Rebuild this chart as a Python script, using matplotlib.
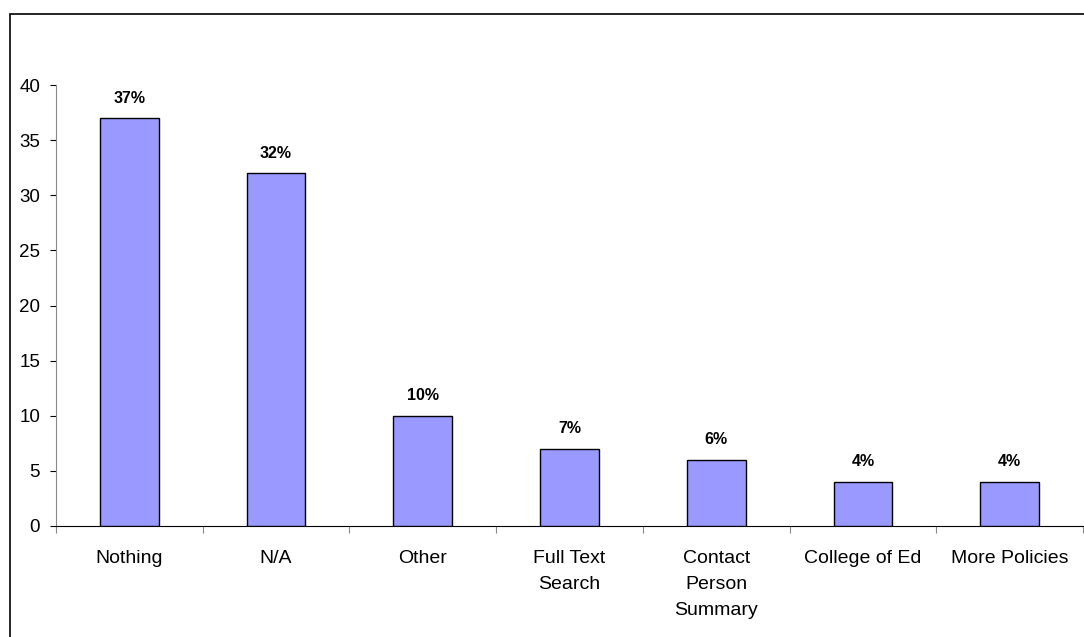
import matplotlib.pyplot as plt
from matplotlib.patches import Rectangle

categories = ["Nothing", "N/A", "Other", "Full Text\nSearch", "Contact\nPerson\nSummary",
              "College of Ed", "More Policies"]
values = [37, 32, 10, 7, 6, 4, 4]
labels = ["37%", "32%", "10%", "7%", "6%", "4%", "4%"]

plt.rcParams['font.family'] = ['Liberation Sans', 'DejaVu Sans']

fig = plt.figure(figsize=(10.84, 6.37), dpi=100)
# outer chart border (runs off the right and bottom edges)
fig.patches.append(Rectangle((10 / 1084, -0.05), 1.2, 1 - 14 / 637 + 0.05,
                             transform=fig.transFigure, fill=False,
                             edgecolor='black', linewidth=1.2))

ax = fig.add_axes([56 / 1084, 1 - 526 / 637, 1027 / 1084, 441 / 637])
x = range(len(categories))
ax.bar(x, values, width=0.4, color='#9999FF', edgecolor='black', linewidth=1.0, zorder=3)
for i, (v, lab) in enumerate(zip(values, labels)):
    ax.annotate(lab, (i, v), xytext=(0, 9), textcoords='offset points',
                ha='center', va='bottom', fontsize=11.5, fontweight='bold')

ax.set_xlim(-0.5, len(categories) - 0.5)
ax.set_ylim(0, 40)
ax.set_yticks(range(0, 41, 5))
ax.tick_params(axis='y', labelsize=13.5, length=4.5, direction='out', pad=7)

ax.set_xticks([i + 0.5 for i in range(-1, len(categories))])
ax.set_xticklabels([])
ax.set_xticks(list(x), minor=True)
ax.set_xticklabels(categories, minor=True, fontsize=14, linespacing=1.7, va='top')
ax.tick_params(axis='x', which='major', length=5, color='#888888')
ax.tick_params(axis='x', which='minor', length=0, pad=17)

ax.spines['top'].set_visible(False)
ax.spines['right'].set_visible(False)
ax.spines['left'].set_color('#888888')

fig.savefig('out.png', dpi=100)
